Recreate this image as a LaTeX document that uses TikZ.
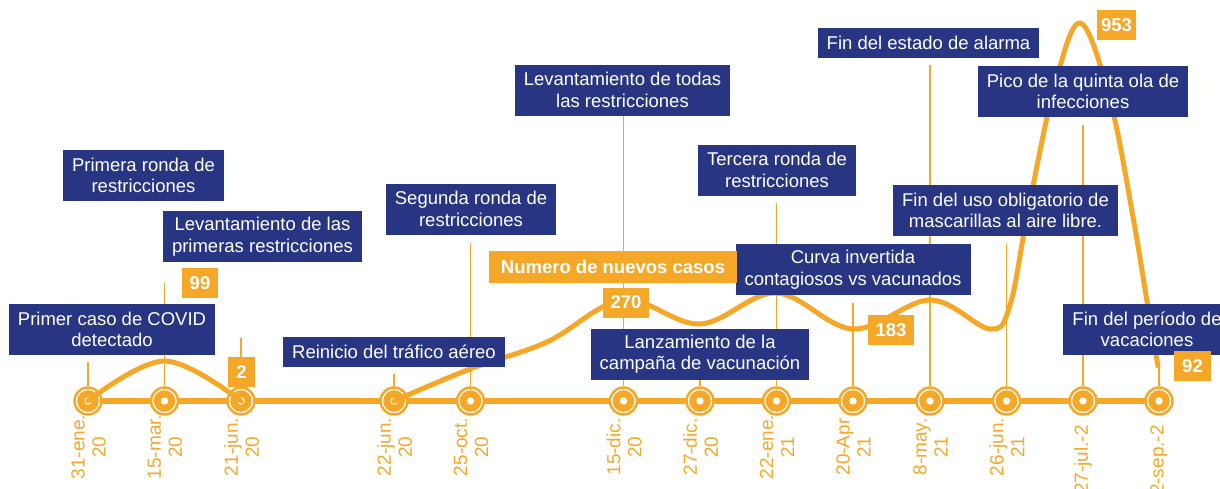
\documentclass[tikz,border=0pt]{standalone}
\usepackage{fontspec}
\setmainfont{Liberation Sans}
\usetikzlibrary{backgrounds}
\definecolor{orng}{RGB}{245,167,40}
\definecolor{evblue}{RGB}{40,53,131}
\tikzset{
  milestone/.style={circle, draw=orng, line width=2.5pt, fill=white, minimum size=27pt, inner sep=0pt,
    path picture={\fill[orng] (path picture bounding box.center) circle (10.8pt);
                  \fill[white] (path picture bounding box.center) circle (3.7pt);}},
  evbox/.style={fill=evblue, text=white, align=center, inner xsep=9pt, inner ysep=0pt,
    font=\fontsize{18.5}{21.5}\selectfont},
  twoline/.style={evbox, minimum height=51pt},
  oneline/.style={evbox, minimum height=30pt},
  numbox/.style={fill=orng, text=white, inner xsep=8pt, inner ysep=0pt, minimum height=30pt,
    font=\bfseries\fontsize{18.5}{21.5}\selectfont},
  datelbl/.style={text=orng, rotate=90, align=center, inner sep=0pt, font=\fontsize{19}{21}\selectfont},
  stem/.style={draw=orng, line width=1.2pt},
  timeline/.style={draw=orng, line width=6.5pt},
  cases/.style={draw=orng, line width=5pt, line cap=round, line join=round}
}
\begin{document}
\begin{tikzpicture}[x=1pt, y=-1pt]
  \useasboundingbox (0,0) rectangle (1220,488);
  \foreach \i/\x in {1/88, 2/164.5, 3/241, 4/394, 5/470.5, 6/623.5, 7/700, 8/776.5, 9/853, 10/930, 11/1006.5, 12/1083, 13/1159}
    \node[milestone] (m\i) at (\x,401) {};
  \begin{scope}[on background layer]
    \draw[timeline] (m1.center) -- (m13.center);
  \end{scope}
  \foreach \i/\t in {1/362, 2/283, 3/338, 4/374, 5/243, 6/116, 7/379, 8/203, 9/303, 10/65, 11/243, 12/125, 13/367} {
    \coordinate (t\i) at (m\i |- 0,\t);
    \draw[stem] (t\i) -- (m\i);
  }
  \foreach \i/\d in {1/31-ene., 2/15-mar., 3/21-jun., 4/22-jun., 5/25-oct., 6/15-dic., 7/27-dic.}
    \node[datelbl] (d\i) at ([xshift=0.5pt]m\i |- 0,447) {\d\\20};
  \foreach \i/\d in {8/22-ene., 9/20-Apr, 10/8-may., 11/26-jun.}
    \node[datelbl] (d\i) at ([xshift=0.5pt]m\i |- 0,447) {\d\\21};
  \node[datelbl, anchor=east] (d12) at (m12 |- 0,425) {27-jul.-2};
  \node[datelbl, anchor=east] (d13) at (m13 |- 0,425) {2-sep.-2};

  \draw[cases] plot[smooth, tension=0.6] coordinates {(88,401) (164.5,361) (241,401)};
  \draw[cases] plot[smooth, tension=0.6] coordinates {(394,401) (470,369) (547,342) (623,300) (700,324)
    (776,293) (853,329) (930,300) (990,329) (1010,305) (1027,217) (1053,93) (1080,23) (1110,100)
    (1133,217) (1150,320) (1158,366)};

  \node[twoline] (first) at (112,329.5) {Primer caso de COVID\\detectado};
  \node[twoline] (ronda1) at (143.5,175.5) {Primera ronda de\\restricciones};
  \node[twoline] (lev1) at (262.5,236.5) {Levantamiento de las\\primeras restricciones};
  \node[oneline] (trafico) at (394,352) {Reinicio del tráfico aéreo};
  \node[twoline] (ronda2) at (471,209) {Segunda ronda de\\restricciones};
  \node[twoline] (lev2) at (622.5,90) {Levantamiento de todas\\las restricciones};
  \node[twoline] (vacuna) at (700,354) {Lanzamiento de la\\campaña de vacunación};
  \node[twoline] (ronda3) at (777,170) {Tercera ronda de\\restricciones};
  \node[twoline] (curva) at (853,269.5) {Curva invertida\\contagiosos vs vacunados};
  \node[oneline] (alarma) at (928.5,43) {Fin del estado de alarma};
  \node[twoline] (pico) at (1083,91.5) {Pico de la quinta ola de\\infecciones};
  \node[twoline] (mascara) at (1005.5,210.5) {Fin del uso obligatorio de\\mascarillas al aire libre.};
  \node[twoline] (vacaciones) at (1147,329.5) {Fin del período de\\vacaciones};

  \node[numbox, inner xsep=12pt, minimum height=32pt] (casos) at (613,267) {Numero de nuevos casos};
  \node[numbox] (n99) at (200,283) {99};
  \node[numbox] (n2) at (241.5,372) {2};
  \node[numbox] (n270) at (626,302.5) {270};
  \node[numbox] (n183) at (891,330) {183};
  \node[numbox, inner xsep=4pt] (n953) at (1116.5,25) {953};
  \node[numbox] (n92) at (1192.5,366) {92};
\end{tikzpicture}
\end{document}
